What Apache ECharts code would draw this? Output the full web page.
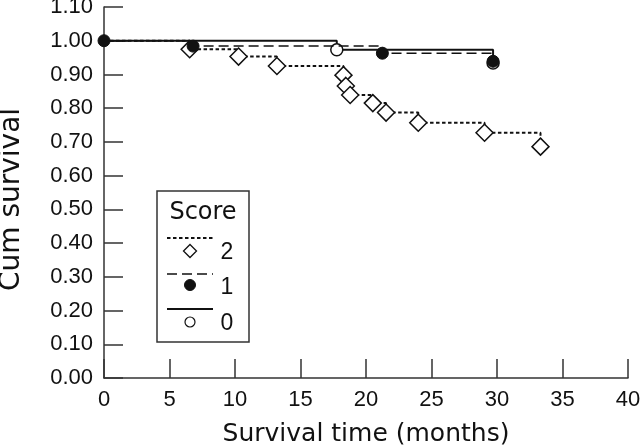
<!DOCTYPE html>
<html>
<head>
<meta charset="utf-8">
<script src="https://cdn.jsdelivr.net/npm/echarts@6/dist/echarts.min.js"></script>
<style>html,body{margin:0;padding:0;background:#fff;}#c{width:640px;height:447px;}</style>
</head>
<body>
<div id="c"></div>
<script>
// ---- data ----
const xTicks = [0, 5, 10, 15, 20, 25, 30, 35, 40];
const yTicks = [0, 0.1, 0.2, 0.3, 0.4, 0.5, 0.6, 0.7, 0.8, 0.9, 1.0, 1.1];

// Score 2 (dotted, open diamonds)
const score2Time = [0, 6.54, 10.27, 13.2, 18.28, 18.46, 18.79, 20.52, 21.53, 23.99, 29.05, 33.32];
const score2Surv = [1.0, 0.975, 0.953, 0.925, 0.898, 0.866, 0.839, 0.815, 0.787, 0.757, 0.727, 0.686];
// Score 1 (dashed, filled circles)
const score1Time = [0, 6.8, 21.25, 29.7];
const score1Surv = [1.0, 0.984, 0.963, 0.939];
// Score 0 (solid, open circles)
const score0Time = [0, 17.77, 29.7];
const score0Surv = [1.0, 0.973, 0.934];

const legendLabels = ['2', '1', '0'];
const legendTitle = 'Score';

const INK = '#111';
const AXIS = '#333';

function mk(times, surv, showFirst) {
  return times.map((t, i) => {
    const d = { value: [t, surv[i]] };
    if (i === 0 && !showFirst) d.symbol = 'none';
    return d;
  });
}

const chart = echarts.init(document.getElementById('c'), null, { renderer: 'canvas' });

const tickFont = 'Liberation Sans';
const titleFont = 'DejaVu Sans';

// legend graphic (layout only)
const LX = 157, LY = 191, LW = 92, LH = 151;
const lineX1 = 167, lineX2 = 213, symX = 190, numX = 227;
const rows = [
  { lineY: 238, numY: 253, dash: [3.5, 2.5], w: 2 },
  { lineY: 274, numY: 288, dash: [10, 5], w: 1.5 },
  { lineY: 309, numY: 324, dash: null, w: 2 }
];
const legendGraphic = [
  { type: 'rect', shape: { x: LX, y: LY, width: LW, height: LH }, style: { fill: '#fff', stroke: AXIS, lineWidth: 1.5 }, z: 100 },
  { type: 'text', x: 203, y: 213, style: { text: legendTitle, font: '24px "DejaVu Sans"', fill: INK, align: 'center', verticalAlign: 'middle' }, z: 101 }
];
rows.forEach((r, i) => {
  legendGraphic.push({ type: 'line', shape: { x1: lineX1, y1: r.lineY, x2: lineX2, y2: r.lineY }, style: { stroke: INK, lineWidth: r.w, lineDash: r.dash }, z: 101 });
  legendGraphic.push({ type: 'text', x: numX, y: r.numY, style: { text: legendLabels[i], font: '23px "Liberation Sans"', fill: INK, align: 'center', verticalAlign: 'middle' }, z: 101 });
});
legendGraphic.push({ type: 'polygon', shape: { points: [[symX, 244.5], [symX + 6.5, 251], [symX, 257.5], [symX - 6.5, 251]] }, style: { fill: '#fff', stroke: INK, lineWidth: 1.3 }, z: 101 });
legendGraphic.push({ type: 'circle', shape: { cx: symX, cy: 285, r: 5.5 }, style: { fill: INK, stroke: INK, lineWidth: 1 }, z: 101 });
legendGraphic.push({ type: 'circle', shape: { cx: symX, cy: 322, r: 5 }, style: { fill: '#fff', stroke: INK, lineWidth: 1.2 }, z: 101 });

const option = {
  animation: false,
  backgroundColor: '#fff',
  grid: { left: 104, right: 12, top: 7, bottom: 69, containLabel: false, outerBoundsMode: 'none' },
  xAxis: {
    type: 'value', min: xTicks[0], max: xTicks[xTicks.length - 1], interval: 5,
    name: 'Survival time (months)', nameLocation: 'middle', nameGap: 44,
    nameTextStyle: { fontFamily: titleFont, fontSize: 25, color: INK },
    axisLine: { show: true, lineStyle: { color: AXIS, width: 1.5 } },
    axisTick: { show: true, inside: true, length: 19, lineStyle: { color: AXIS, width: 1.5 } },
    axisLabel: { margin: 11, fontFamily: tickFont, fontSize: 22, color: INK },
    splitLine: { show: false }
  },
  yAxis: {
    type: 'value', min: yTicks[0], max: yTicks[yTicks.length - 1], interval: 0.1,
    name: 'Cum survival', nameLocation: 'middle', nameGap: 78, nameRotate: 90,
    nameTextStyle: { fontFamily: titleFont, fontSize: 28, color: INK, padding: [0, 14, 0, 0] },
    axisLine: { show: true, lineStyle: { color: AXIS, width: 1.5 } },
    axisTick: { show: true, inside: true, length: 19, lineStyle: { color: AXIS, width: 1.5 } },
    axisLabel: { margin: 11, fontFamily: tickFont, fontSize: 22, color: INK, formatter: v => v.toFixed(2) },
    splitLine: { show: false }
  },
  series: [
    {
      name: '2', type: 'line', step: 'end', data: mk(score2Time, score2Surv, false),
      symbol: 'diamond', symbolSize: 17, showSymbol: true, showAllSymbol: true,
      lineStyle: { color: INK, width: 2, type: [3.5, 2.5] },
      itemStyle: { color: '#fff', borderColor: INK, borderWidth: 1.5 }, z: 2
    },
    {
      name: '0', type: 'line', step: 'end', data: mk(score0Time, score0Surv, false),
      symbol: 'circle', symbolSize: 12, showSymbol: true, showAllSymbol: true,
      lineStyle: { color: INK, width: 2, type: 'solid' },
      itemStyle: { color: '#fff', borderColor: INK, borderWidth: 1.5 }, z: 3
    },
    {
      name: '1', type: 'line', step: 'end', data: mk(score1Time, score1Surv, true),
      symbol: 'circle', symbolSize: 12, showSymbol: true, showAllSymbol: true,
      lineStyle: { color: INK, width: 1.5, type: [10, 5] },
      itemStyle: { color: INK, borderColor: INK, borderWidth: 1 }, z: 4
    }
  ],
  graphic: legendGraphic
};
chart.setOption(option);
</script>
</body>
</html>
